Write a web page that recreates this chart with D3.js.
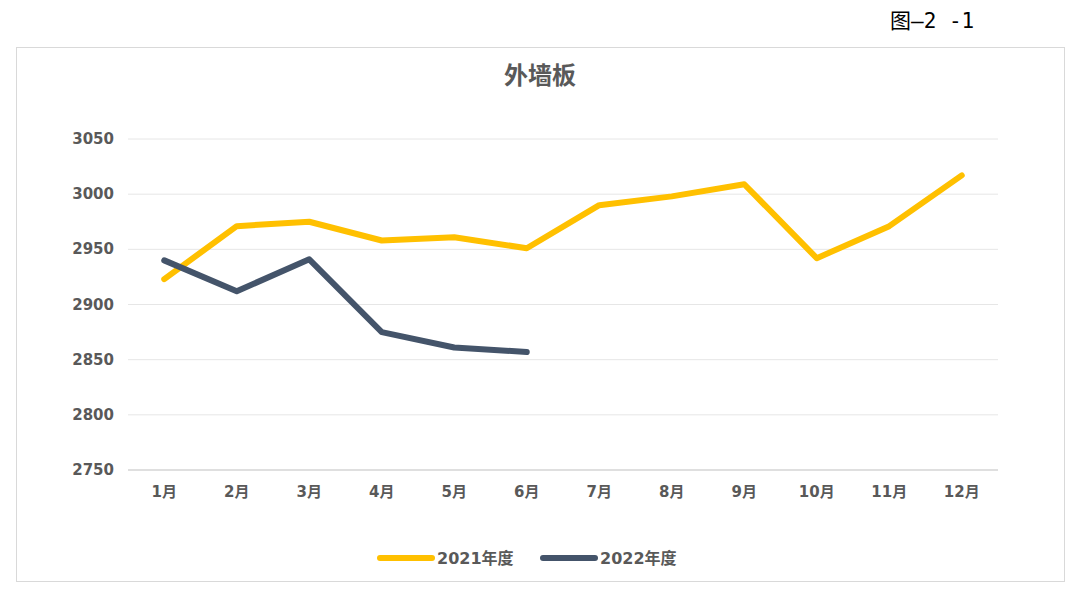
<!DOCTYPE html>
<html><head><meta charset="utf-8">
<script src="https://cdn.jsdelivr.net/npm/d3@7/dist/d3.min.js"></script>
<style>body{margin:0;background:#fff;font-family:"DejaVu Sans","Noto Sans CJK SC",sans-serif}</style>
</head><body>
<svg id="c" width="1080" height="596"></svg>
<script>
var months = ['1月','2月','3月','4月','5月','6月','7月','8月','9月','10月','11月','12月'];
var y2021 = [2923,2971,2975,2958,2961,2951,2990,2998,3009,2942,2971,3017];
var y2022 = [2940,2912,2941,2875,2861,2857];
var yTicks = [2750,2800,2850,2900,2950,3000,3050];
var seriesNames = ['2021年度','2022年度'];
var colors = ['#FFC000','#44546A'];

var svg = d3.select('#c');
svg.append('text').attr('x',890).attr('y',28).attr('font-size',21).attr('fill','#000')
  .attr('font-family','"DejaVu Sans Mono","Noto Sans CJK SC",monospace').attr('xml:space','preserve').text('图—2 -1');
svg.append('rect').attr('x',16.5).attr('y',47.5).attr('width',1048).attr('height',534)
  .attr('fill','none').attr('stroke','#d9d9d9');
svg.append('text').attr('x',540).attr('y',84).attr('text-anchor','middle')
  .attr('font-size',24).attr('font-weight','bold').attr('fill','#595959').text('外墙板');

var x = d3.scaleBand().domain(months).range([128,998]);
var y = d3.scaleLinear().domain([2750,3050]).range([470,139]);

svg.append('g').selectAll('line').data(yTicks.slice(1)).enter().append('line')
  .attr('x1',128).attr('x2',998).attr('y1',d=>y(d)).attr('y2',d=>y(d))
  .attr('stroke','#e6e6e6');
svg.append('line').attr('x1',128).attr('x2',998).attr('y1',y(2750)).attr('y2',y(2750)).attr('stroke','#bfbfbf');

svg.append('g').selectAll('text').data(yTicks).enter().append('text')
  .attr('x',114).attr('y',d=>y(d)+5).attr('text-anchor','end')
  .attr('font-size',15).attr('font-weight','bold').attr('fill','#595959').text(d=>d);
svg.append('g').selectAll('text').data(months).enter().append('text')
  .attr('x',d=>x(d)+x.bandwidth()/2).attr('y',497).attr('text-anchor','middle')
  .attr('font-size',15).attr('font-weight','bold').attr('fill','#595959').text(d=>d);

var line = d3.line().x((d,i)=>x(months[i])+x.bandwidth()/2).y(d=>y(d));
[y2021,y2022].forEach((s,k)=>{
  svg.append('path').attr('d',line(s)).attr('fill','none').attr('stroke',colors[k])
    .attr('stroke-width',6).attr('stroke-linejoin','round').attr('stroke-linecap','round');
});

var lx = [380,543];
seriesNames.forEach((n,k)=>{
  svg.append('line').attr('x1',lx[k]).attr('x2',lx[k]+52).attr('y1',558).attr('y2',558)
    .attr('stroke',colors[k]).attr('stroke-width',6).attr('stroke-linecap','round');
  svg.append('text').attr('x',lx[k]+57).attr('y',564).attr('font-size',16)
    .attr('font-weight','bold').attr('fill','#595959').text(n);
});
</script>
</body></html>
